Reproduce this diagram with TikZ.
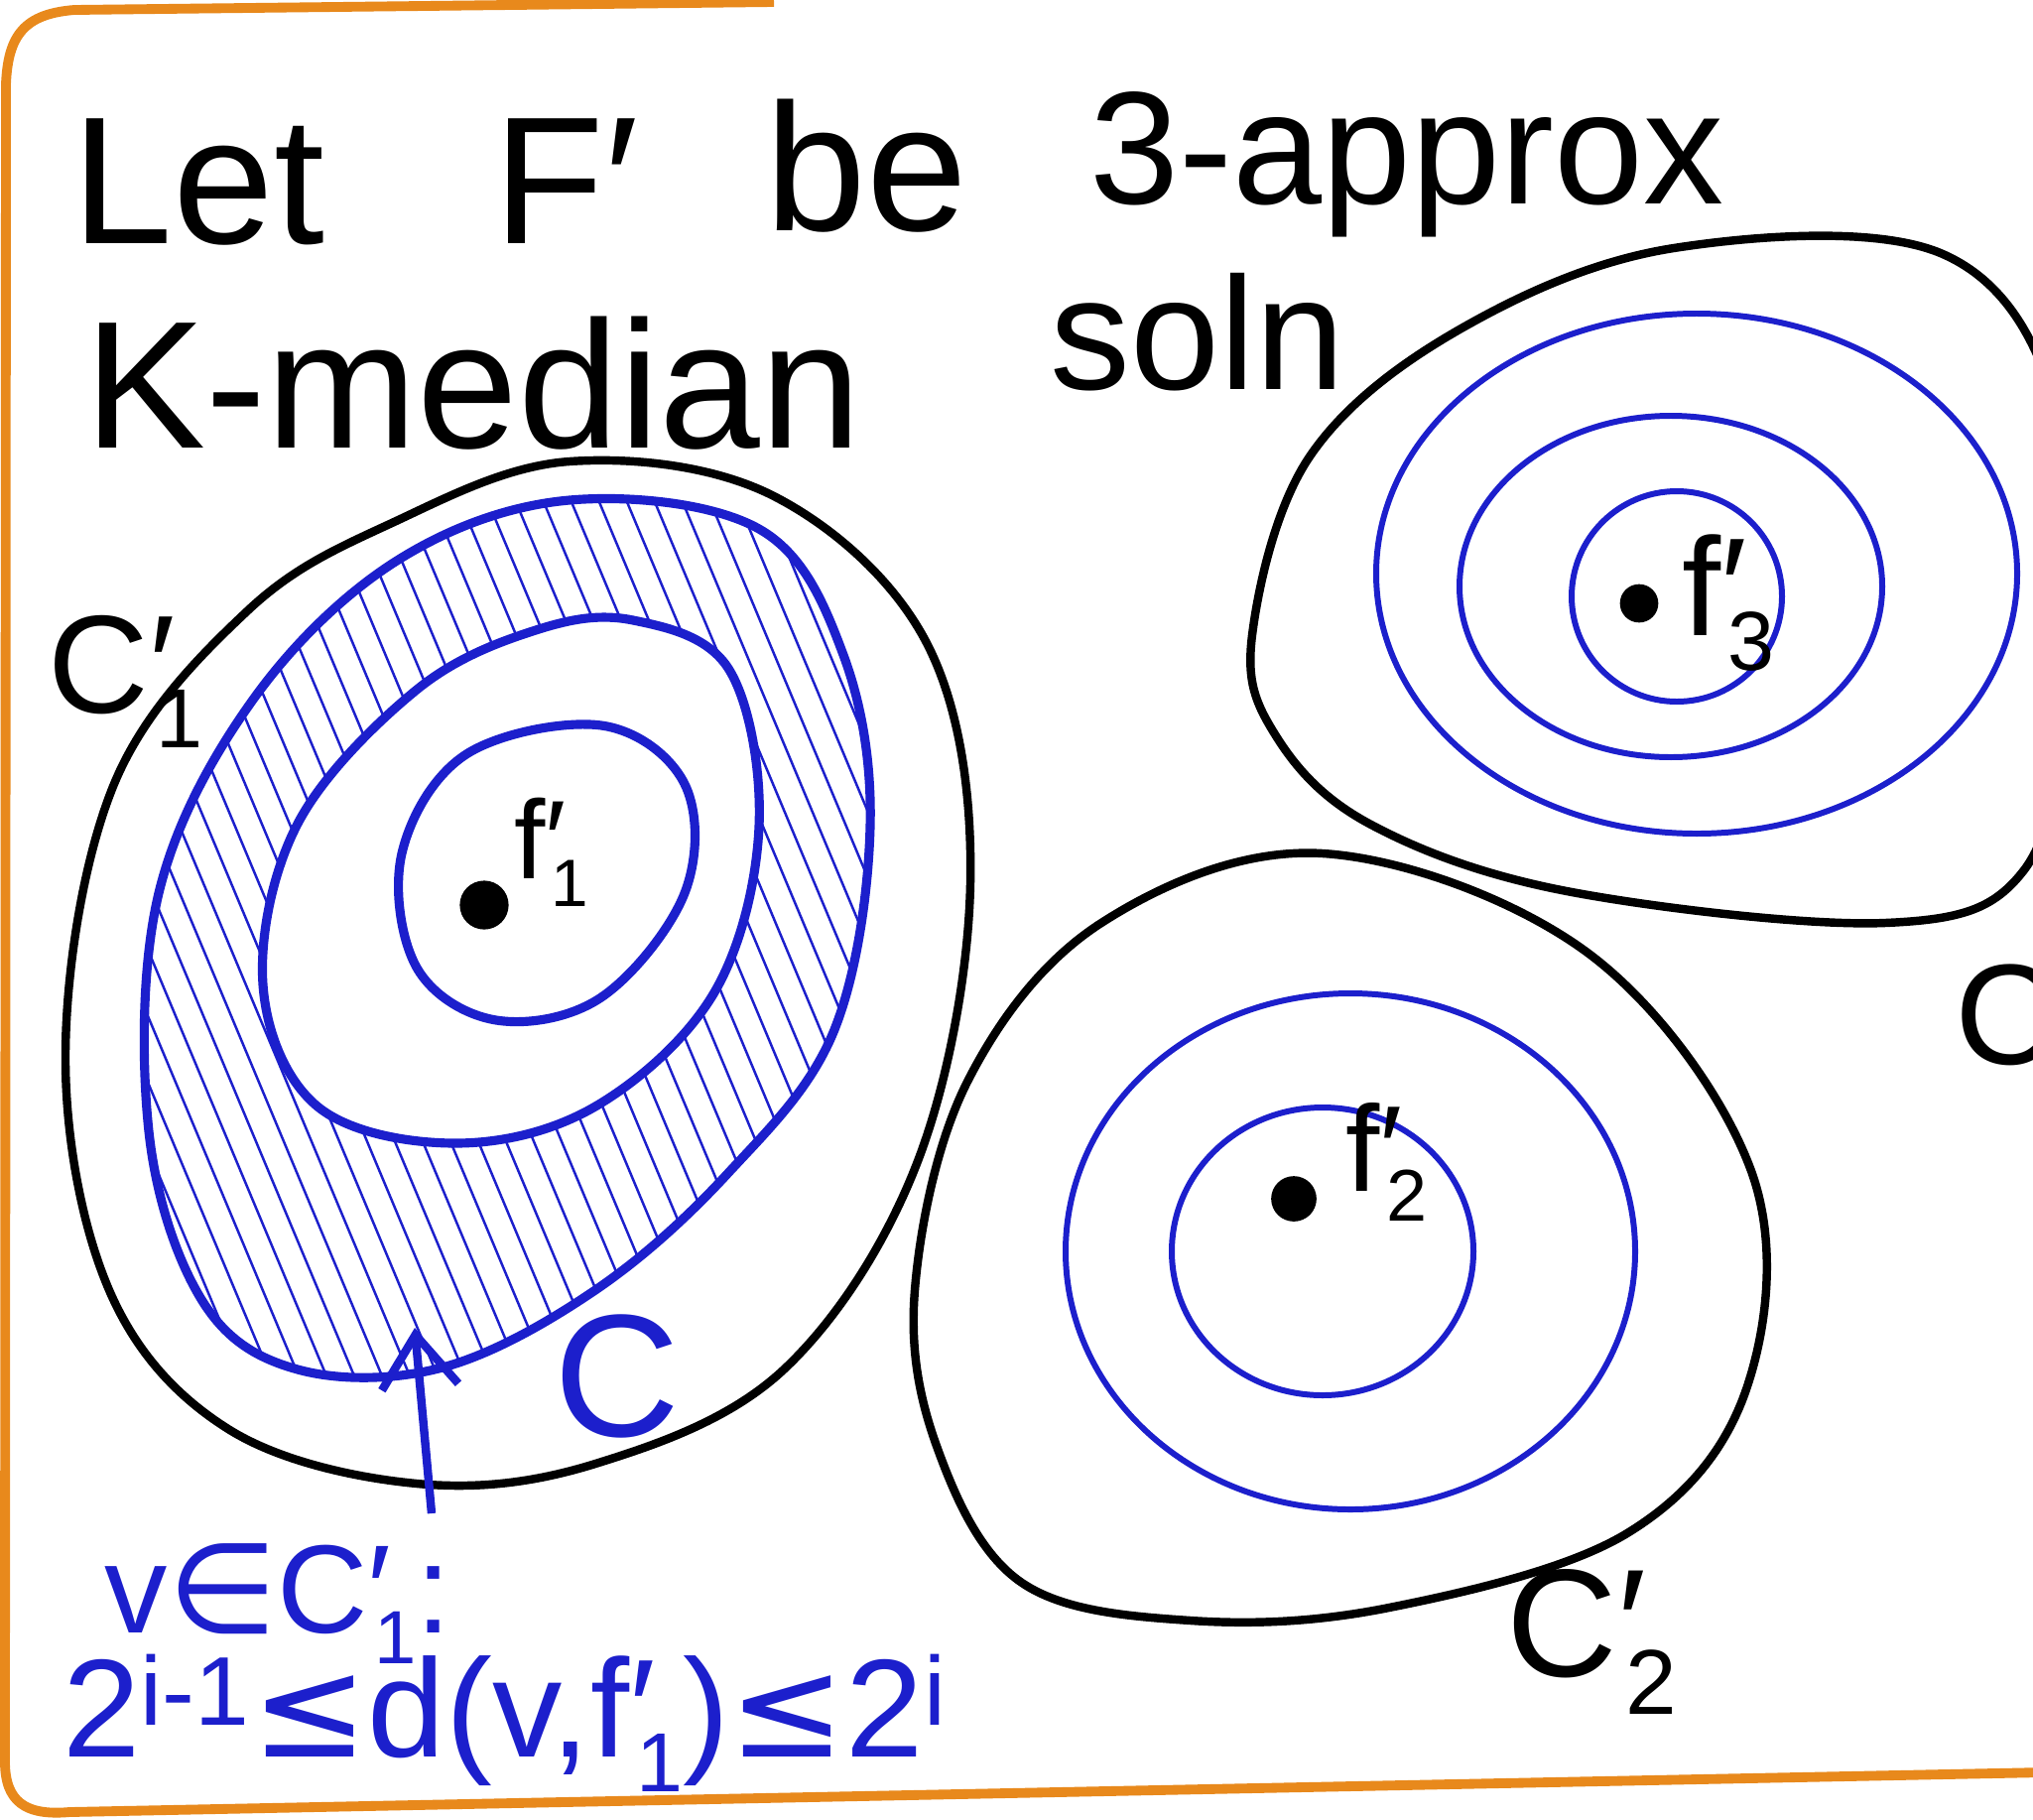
\documentclass[tikz,border=0pt]{standalone}
\usepackage{fontspec}
\setmainfont{Liberation Sans}
\newfontfamily\symf{DejaVu Sans}
\usetikzlibrary{arrows.meta}
\definecolor{cpen}{HTML}{1C1FCC}
\definecolor{cframe}{HTML}{E8891C}
\newcommand{\pl}[2]{#1\rlap{′}\kern0.05em\raisebox{-0.25em}{\scalebox{0.6}{#2}}}

\begin{document}
\begin{tikzpicture}[x=0.01cm, y=-0.01cm,
  rim/.style={draw=black, line width=2.4pt},
  ring/.style={draw=cpen, line width=2.6pt},
  thin ring/.style={draw=cpen, line width=1.7pt},
  hatchl/.style={draw=cpen, line width=0.7pt},
  hand/.style={anchor=base west, inner sep=0pt, font=\fontsize{52}{60}\selectfont},
  lbl/.style={anchor=base west, inner sep=0pt},
  dot/.style={circle, fill=black, inner sep=0pt},
  arr/.style={-{Straight Barb[length=15pt, width=22pt]}, draw=cpen, line width=2.4pt},
]
\fill[white] (0,0) rectangle (2049,1833);
\useasboundingbox (0,0) rectangle (2049,1833);

% ------------------------------------------------------------------ frame
\draw[cframe, line width=2.8pt] (780,2) -- (75,10) .. controls (25,14) and (8,35) .. (6,85)
  -- (5,1775) .. controls (5,1815) and (25,1830) .. (70,1826) -- (2060,1786);

% ------------------------------------------------------------------ heading
\node[hand] (w1) at (72,245) {Let};
\node[hand] (w2) at (497,245) {F′};
\node[hand] (w3) at (771,232) {be};
\node[hand, font=\fontsize{46}{54}\selectfont] (w4) at (1098,205) {3-approx};
\node[hand] (w5) at (85,451) {K-median};
\node[hand, font=\fontsize{46}{54}\selectfont] (w6) at (1058,392) {soln};

% ------------------------------------------------------------------ first cluster
\begin{scope}[even odd rule]
  \clip
    plot[smooth cycle, tension=0.6] coordinates {(574,504) (765,533) (850,660) (877,833)
      (840,1040) (733,1183) (600,1300) (446,1378) (300,1380) (204,1311) (150,1140) (160,900)
      (255,705) (400,565)}
    plot[smooth cycle, tension=0.6] coordinates {(638,625) (735,675) (765,833) (720,1000)
      (600,1115) (459,1152) (320,1115) (265,992) (300,830) (420,695) (540,635)};
  \foreach \k in {-300,-272,...,880} \draw[hatchl] (\k,420) -- ++(440,1050);
\end{scope}
\draw[rim] plot[smooth cycle, tension=0.6] coordinates {(574,465) (780,500) (935,650) (978,890)
  (925,1170) (790,1380) (600,1475) (420,1495) (230,1440) (110,1300) (66,1060) (115,790)
  (250,615) (395,527)};
\draw[ring] plot[smooth cycle, tension=0.6] coordinates {(574,504) (765,533) (850,660) (877,833)
  (840,1040) (733,1183) (600,1300) (446,1378) (300,1380) (204,1311) (150,1140) (160,900)
  (255,705) (400,565)};
\draw[ring] plot[smooth cycle, tension=0.6] coordinates {(638,625) (735,675) (765,833) (720,1000)
  (600,1115) (459,1152) (320,1115) (265,992) (300,830) (420,695) (540,635)};
\draw[ring] plot[smooth cycle, tension=0.6] coordinates {(606,731) (690,790) (690,900) (606,1005)
  (500,1028) (420,975) (405,860) (470,760)};
\node[dot, minimum size=14pt] (f1) at (488,912) {};
\node[lbl, font=\fontsize{32}{38}\selectfont] (f1l) at (518,885) {\pl{f}{1}};
\node[lbl, font=\fontsize{40}{48}\selectfont] (c1l) at (48,718) {\pl{C}{1}};
\node[font=\fontsize{50}{60}\selectfont, text=cpen, inner sep=0pt] (cring) at (622,1387) {C};

% ------------------------------------------------------------------ condition
\coordinate (tail) at (435,1525);
\coordinate (tip) at (418,1338);
\draw[arr] (tail) -- (tip);
\node[lbl, text=cpen, font=\fontsize{36}{42}\selectfont] (cond1) at (105,1645)
  {v{\symf ∈}\pl{C}{1}:};
\node[lbl, text=cpen, font=\fontsize{40}{48}\selectfont] (cond2) at (63,1770)
  {2\textsuperscript{i-1}{\symf ≤}d(v,\pl{f}{1}){\symf ≤}2\textsuperscript{i}};

% ------------------------------------------------------------------ second cluster
\draw[rim] plot[smooth cycle, tension=0.6] coordinates {(1333,860) (1600,960) (1765,1180)
  (1760,1400) (1640,1545) (1400,1620) (1200,1633) (1030,1595) (945,1460) (922,1300) (975,1090)
  (1110,930)};
\draw[thin ring] (1361,1261) ellipse [x radius=287, y radius=260];
\draw[thin ring] (1333,1261) ellipse [x radius=152, y radius=145];
\node[dot, minimum size=13pt] (f2) at (1304,1208) {};
\node[lbl, font=\fontsize{35}{42}\selectfont] (f2l) at (1356,1200) {\pl{f}{2}};
\node[lbl, font=\fontsize{44}{52}\selectfont] (c2l) at (1518,1689) {\pl{C}{2}};

% ------------------------------------------------------------------ third cluster
\draw[rim] plot[smooth cycle, tension=0.6] coordinates {(1262,640) (1320,460) (1471,332)
  (1687,250) (1958,256) (2075,420) (2080,700) (2039,878) (1900,930) (1579,898) (1380,830)
  (1285,740)};
\draw[thin ring] (1710,578) ellipse [x radius=323, y radius=262];
\draw[thin ring] (1684,591) ellipse [x radius=213, y radius=172];
\draw[thin ring] (1690,601) ellipse [x radius=106, y radius=106];
\node[dot, minimum size=11pt] (f3) at (1652,608) {};
\node[lbl, font=\fontsize{40}{48}\selectfont] (f3l) at (1695,640) {\pl{f}{3}};
\node[lbl, font=\fontsize{41}{48}\selectfont] (c3l) at (1970,1072) {\pl{C}{3}};
\end{tikzpicture}
\end{document}
